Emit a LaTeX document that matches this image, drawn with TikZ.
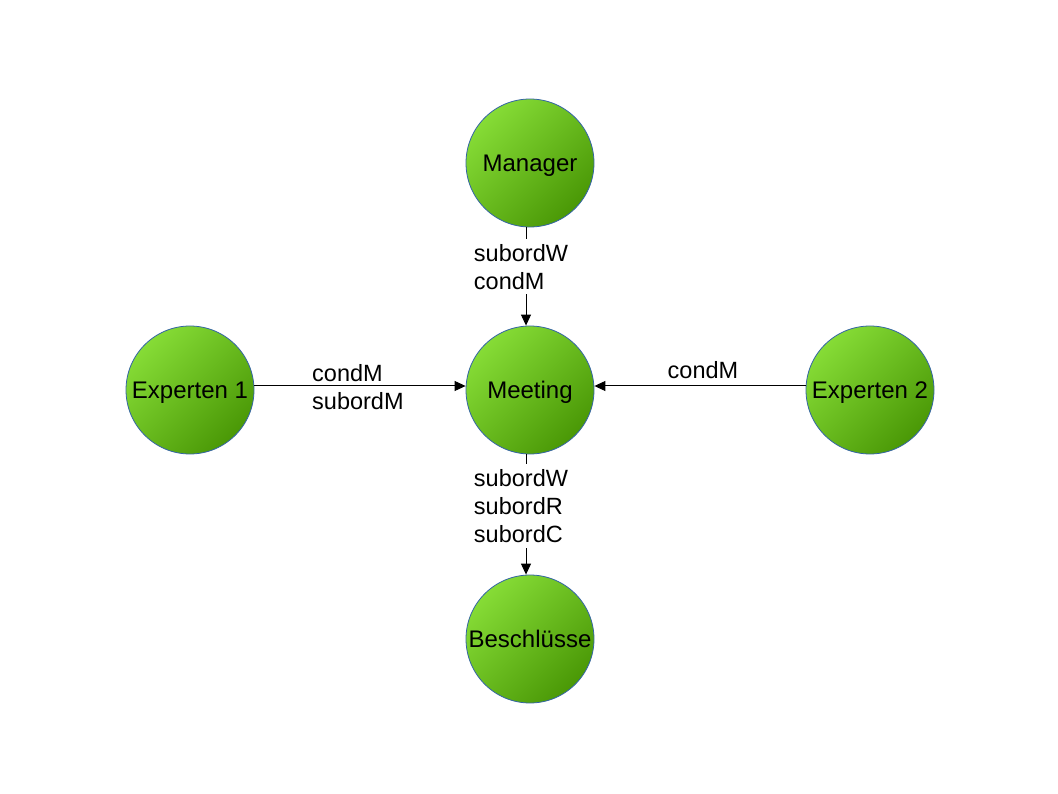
\documentclass[tikz,border=0pt]{standalone}
\usepackage{fontspec}
\setmainfont{Liberation Sans}
\usetikzlibrary{arrows.meta}
\definecolor{glight}{HTML}{86DC36}
\definecolor{gdark}{HTML}{4A9806}
\definecolor{rim}{HTML}{3465A4}
\tikzset{
  agent/.style={circle, minimum size=128pt, inner sep=0pt, draw=rim, line width=0.8pt,
    top color=glight, bottom color=gdark, shading angle=45,
    text height=17pt, text depth=0pt, font=\fontsize{24}{28}\selectfont},
  conn/.style={line width=1pt, -{Triangle[length=11pt,width=10pt]}},
  lbl/.style={align=left, inner sep=0pt, font=\fontsize{23.5}{28}\selectfont},
  lblbg/.style={lbl, fill=white, inner xsep=1pt, inner ysep=5pt}
}
\begin{document}
\begin{tikzpicture}[x=1pt,y=-1pt]
\useasboundingbox[fill=white] (0,0) rectangle (1058,794);
\node[agent] (man) at (530,163) {Manager};
\node[agent] (meet) at (530,390) {Meeting};
\node[agent] (bes) at (530,639) {Beschlüsse};
\node[agent] (e1) at (190,390) {Experten 1};
\node[agent] (e2) at (870,390) {Experten 2};
% Manager -> Meeting
\draw[conn] ([xshift=-4pt]man.south) -- node[lblbg, pos=0.4, xshift=-5pt] (l1) {subordW\\condM} ([xshift=-4pt]meet.north);
% Meeting -> Beschluesse
\draw[conn] ([xshift=-4pt]meet.south) -- node[lblbg, pos=0.43, xshift=-5pt] (l2) {subordW\\subordR\\subordC} ([xshift=-4pt]bes.north);
% Experten 1 -> Meeting
\draw[conn] ([yshift=4pt]e1.east) -- ([yshift=4pt]meet.west);
\node[lbl, anchor=west] (l3) at (312,387) {condM\\subordM};
% Experten 2 -> Meeting
\draw[conn] ([yshift=4pt]e2.west) -- ([yshift=4pt]meet.east);
\node[lbl] (l4) at (703,370) {condM};
\end{tikzpicture}
\end{document}
